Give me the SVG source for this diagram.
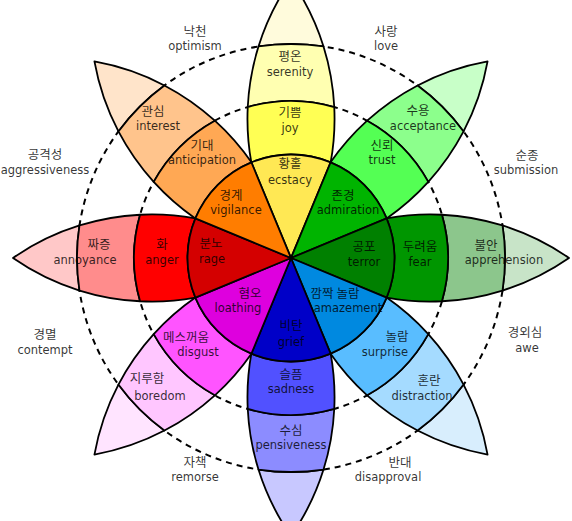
<svg xmlns="http://www.w3.org/2000/svg" xmlns:xlink="http://www.w3.org/1999/xlink" width="572" height="521" viewBox="0 0 572 521">
<style>
.ln{stroke:#000;stroke-width:1.8;stroke-linejoin:round}
.dash{fill:none;stroke:#000;stroke-width:2;stroke-dasharray:6 5}
.ko{font-family:"Noto Sans CJK KR","Noto Sans",sans-serif;font-size:12.5px;text-anchor:middle;fill:#000;fill-opacity:.8}
.en{font-family:"DejaVu Sans","Liberation Sans",sans-serif;font-size:11.5px;text-anchor:middle;fill:#000;fill-opacity:.8}
</style>
<defs>
<path id="b1" d="M95.60,-39.66 A243.56 243.56 0 0 1 150.93,-43.25 A157 157 0 0 1 150.93,43.25 A243.56 243.56 0 0 1 95.60,39.66 A103.5 103.5 0 0 0 95.60,-39.66 Z"/>
<path id="b2" d="M150.93,-43.25 A243.56 243.56 0 0 1 211.52,-32.52 A214 214 0 0 1 211.52,32.52 A243.56 243.56 0 0 1 150.93,43.25 A157 157 0 0 0 150.93,-43.25 Z"/>
<path id="b3" d="M211.52,-32.52 A243.56 243.56 0 0 1 278,0 A243.56 243.56 0 0 1 211.52,32.52 A214 214 0 0 0 211.52,-32.52 Z"/>
<path id="w" d="M0,0 L95.60,-39.66 A103.5 103.5 0 0 1 95.60,39.66 Z"/>
</defs>
<rect width="572" height="521" fill="#fff"/>
<g id="rings">
<circle class="dash" cx="291" cy="258" r="157"/>
<circle class="dash" cx="291" cy="258" r="214"/>
</g>
<g id="joy">
<g class="ln" transform="translate(291 258) rotate(270)">
<use href="#b3" fill="#fffbdc"/><use href="#b2" fill="#ffffb1"/><use href="#b1" fill="#ffff54"/><use href="#w" fill="#ffe854"/>
</g>
<text class="ko" x="290" y="61">평온</text><text class="en" x="290" y="76">serenity</text>
<text class="ko" x="290" y="117">기쁨</text><text class="en" x="290" y="132">joy</text>
<text class="ko" x="290" y="168">황홀</text><text class="en" x="290" y="184">ecstacy</text>
</g>
<g id="trust">
<g class="ln" transform="translate(291 258) rotate(315)">
<use href="#b3" fill="#c8ffc8"/><use href="#b2" fill="#8cff8c"/><use href="#b1" fill="#54ff54"/><use href="#w" fill="#00b400"/>
</g>
<text class="ko" x="418" y="115">수용</text><text class="en" x="423" y="130">acceptance</text>
<text class="ko" x="382" y="150">신뢰</text><text class="en" x="382" y="164">trust</text>
<text class="ko" x="343" y="200">존경</text><text class="en" x="348" y="214">admiration</text>
</g>
<g id="fear">
<g class="ln" transform="translate(291 258) rotate(0)">
<use href="#b3" fill="#c8e4c8"/><use href="#b2" fill="#8cc68c"/><use href="#b1" fill="#009600"/><use href="#w" fill="#008000"/>
</g>
<text class="ko" x="486" y="250">불안</text><text class="en" x="504" y="264">apprehension</text>
<text class="ko" x="420" y="251">두려움</text><text class="en" x="420" y="266">fear</text>
<text class="ko" x="364" y="251">공포</text><text class="en" x="364" y="266">terror</text>
</g>
<g id="surprise">
<g class="ln" transform="translate(291 258) rotate(45)">
<use href="#b3" fill="#d8eefd"/><use href="#b2" fill="#a5dbff"/><use href="#b1" fill="#59bdff"/><use href="#w" fill="#0089e0"/>
</g>
<text class="ko" x="429" y="385">혼란</text><text class="en" x="422" y="400">distraction</text>
<text class="ko" x="397" y="341">놀람</text><text class="en" x="385" y="356">surprise</text>
<text class="ko" x="335" y="298">깜짝 놀람</text><text class="en" x="348" y="312">amazement</text>
</g>
<g id="sadness">
<g class="ln" transform="translate(291 258) rotate(90)">
<use href="#b3" fill="#c8c8ff"/><use href="#b2" fill="#8c8cff"/><use href="#b1" fill="#5151ff"/><use href="#w" fill="#0000c8"/>
</g>
<text class="ko" x="291" y="435">수심</text><text class="en" x="291" y="449">pensiveness</text>
<text class="ko" x="291" y="379">슬픔</text><text class="en" x="291" y="393">sadness</text>
<text class="ko" x="291" y="330">비탄</text><text class="en" x="291" y="346">grief</text>
</g>
<g id="disgust">
<g class="ln" transform="translate(291 258) rotate(135)">
<use href="#b3" fill="#ffe4ff"/><use href="#b2" fill="#ffc6ff"/><use href="#b1" fill="#ff54ff"/><use href="#w" fill="#de00de"/>
</g>
<text class="ko" x="147" y="383">지루함</text><text class="en" x="160" y="400">boredom</text>
<text class="ko" x="186" y="342">메스꺼움</text><text class="en" x="198" y="356">disgust</text>
<text class="ko" x="250" y="298">혐오</text><text class="en" x="238" y="312">loathing</text>
</g>
<g id="anger">
<g class="ln" transform="translate(291 258) rotate(180)">
<use href="#b3" fill="#ffc8c8"/><use href="#b2" fill="#ff8c8c"/><use href="#b1" fill="#ff0000"/><use href="#w" fill="#d40000"/>
</g>
<text class="ko" x="99" y="249">짜증</text><text class="en" x="85" y="264">annoyance</text>
<text class="ko" x="162" y="249">화</text><text class="en" x="162" y="264">anger</text>
<text class="ko" x="211" y="248">분노</text><text class="en" x="212" y="263">rage</text>
</g>
<g id="anticipation">
<g class="ln" transform="translate(291 258) rotate(225)">
<use href="#b3" fill="#ffe4ca"/><use href="#b2" fill="#ffc48c"/><use href="#b1" fill="#ffa854"/><use href="#w" fill="#ff7d00"/>
</g>
<text class="ko" x="153" y="116">관심</text><text class="en" x="158" y="130">interest</text>
<text class="ko" x="202" y="150">기대</text><text class="en" x="202" y="164">anticipation</text>
<text class="ko" x="231" y="200">경계</text><text class="en" x="236" y="214">vigilance</text>
</g>
<g id="optimism"><text class="ko" x="195" y="36">낙천</text><text class="en" x="195" y="50">optimism</text></g>
<g id="love"><text class="ko" x="386" y="36">사랑</text><text class="en" x="386" y="50">love</text></g>
<g id="submission"><text class="ko" x="527" y="160">순종</text><text class="en" x="526" y="174">submission</text></g>
<g id="awe"><text class="ko" x="525" y="337">경외심</text><text class="en" x="527" y="352">awe</text></g>
<g id="disapproval"><text class="ko" x="400" y="467">반대</text><text class="en" x="388" y="481">disapproval</text></g>
<g id="remorse"><text class="ko" x="195" y="467">자책</text><text class="en" x="195" y="481">remorse</text></g>
<g id="contempt"><text class="ko" x="45" y="339">경멸</text><text class="en" x="45" y="354">contempt</text></g>
<g id="aggressiveness"><text class="ko" x="45" y="159">공격성</text><text class="en" x="45" y="174">aggressiveness</text></g>
</svg>
